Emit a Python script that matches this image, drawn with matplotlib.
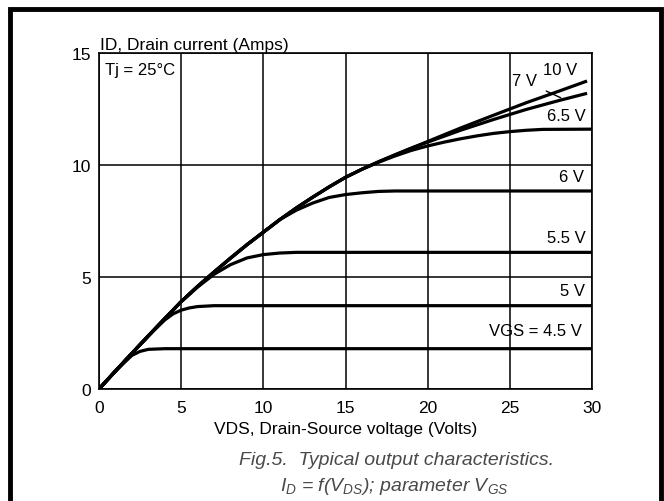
import matplotlib.pyplot as plt
from matplotlib.patches import Rectangle

plt.rcParams['font.family'] = ['Liberation Sans', 'DejaVu Sans']
plt.rcParams['mathtext.fontset'] = 'custom'
plt.rcParams['mathtext.it'] = 'Liberation Sans:italic'
plt.rcParams['mathtext.rm'] = 'Liberation Sans:italic'

# output characteristics, ID (A) against VDS (V), one curve per VGS
vds_45 = [0, 1, 2, 2.5, 3, 4, 30]
id_45 = [0, 0.8, 1.5, 1.68, 1.77, 1.8, 1.8]

vds_50 = [0, 1, 2, 3, 4, 4.5, 5, 5.5, 6, 7, 30]
id_50 = [0, 0.8, 1.59, 2.37, 3.08, 3.35, 3.52, 3.62, 3.68, 3.72, 3.72]

vds_55 = [0, 1, 2, 3, 4, 5, 6, 7, 8, 9, 10, 11, 12, 30]
id_55 = [0, 0.8, 1.59, 2.37, 3.14, 3.9, 4.55, 5.12, 5.55, 5.85, 6.0, 6.07, 6.1, 6.1]

vds_60 = [0, 1, 2, 3, 4, 5, 6, 7, 8, 9, 10, 11, 12, 13, 14, 15, 16, 17, 18, 30]
id_60 = [0, 0.8, 1.59, 2.37, 3.14, 3.9, 4.58, 5.22, 5.84, 6.44, 7.0, 7.56, 7.98,
         8.3, 8.55, 8.68, 8.76, 8.82, 8.84, 8.84]

vds_65 = [0, 1, 2, 3, 4, 5, 6, 7, 8, 9, 10, 11, 12, 13, 14, 15, 16, 17, 18, 19,
          20, 21, 22, 23, 24, 25, 26, 27, 30]
id_65 = [0, 0.8, 1.59, 2.37, 3.14, 3.9, 4.58, 5.22, 5.84, 6.44, 7.0, 7.56, 8.08,
         8.56, 9.02, 9.45, 9.81, 10.12, 10.4, 10.65, 10.85, 11.02, 11.17, 11.3,
         11.41, 11.49, 11.55, 11.59, 11.6]

vds_70 = [0, 1, 2, 3, 4, 5, 6, 7, 8, 9, 10, 11, 12, 13, 14, 15, 16, 17, 18, 19,
          20, 22, 24, 26, 28, 29.7]
id_70 = [0, 0.8, 1.59, 2.37, 3.14, 3.9, 4.58, 5.22, 5.84, 6.44, 7.0, 7.56, 8.08,
         8.56, 9.02, 9.45, 9.81, 10.14, 10.45, 10.75, 11.02, 11.55, 12.03, 12.48,
         12.88, 13.2]

vds_100 = [0, 1, 2, 3, 4, 5, 6, 7, 8, 9, 10, 11, 12, 13, 14, 15, 16, 17, 18, 19,
           20, 22, 24, 26, 28, 29.7]
id_100 = [0, 0.8, 1.59, 2.37, 3.14, 3.9, 4.58, 5.22, 5.84, 6.44, 7.0, 7.56, 8.08,
          8.56, 9.02, 9.45, 9.81, 10.14, 10.45, 10.75, 11.05, 11.65, 12.22, 12.78,
          13.3, 13.75]

curves = [(vds_45, id_45), (vds_50, id_50), (vds_55, id_55), (vds_60, id_60),
          (vds_65, id_65), (vds_70, id_70), (vds_100, id_100)]

# curve labels: text, right edge x, y
labels = [('VGS = 4.5 V', 29.4, 2.6), ('5 V', 29.6, 4.4), ('5.5 V', 29.6, 6.75),
          ('6 V', 29.5, 9.5), ('6.5 V', 29.65, 12.2), ('10 V', 29.1, 14.25)]

fig = plt.figure(figsize=(6.64, 5.02), dpi=100)
ax = fig.add_axes([99 / 664, 1 - 390 / 502, 493 / 664, 336 / 502])

for x, y in curves:
    ax.plot(x, y, color='black', lw=2.3, solid_capstyle='butt', zorder=3)

ax.set_xlim(0, 30)
ax.set_ylim(0, 15)
ax.set_xticks([0, 5, 10, 15, 20, 25, 30])
ax.set_yticks([0, 5, 10, 15])
ax.tick_params(length=0, labelsize=12.5)
ax.tick_params(axis='x', pad=8)
ax.tick_params(axis='y', pad=6)
ax.grid(True, color='black', lw=1.1)
for s in ax.spines.values():
    s.set_linewidth(1.2)

for t, x, y in labels:
    ax.text(x, y, t, ha='right', va='center', fontsize=12)
ax.annotate('7 V', xy=(28.1, 13.0), xytext=(25.9, 13.75), fontsize=12,
            ha='center', va='center',
            arrowprops=dict(arrowstyle='-', color='black', lw=1.0,
                            shrinkA=5, shrinkB=0))
ax.text(0.35, 14.25, 'Tj = 25°C', ha='left', va='center', fontsize=12)

ax.text(0.05, 15.05, 'ID, Drain current (Amps)', ha='left', va='bottom',
        fontsize=12.5)
ax.set_xlabel('VDS, Drain-Source voltage (Volts)', fontsize=12.5, labelpad=4)

fig.text(0.597, 0.083, 'Fig.5.  Typical output characteristics.', ha='center',
         va='center', fontsize=14, style='italic', color='#4a4a4a')
fig.text(0.594, 0.030, r'$I_D$ = f($V_{DS}$); parameter $V_{GS}$', ha='center',
         va='center', fontsize=14, style='italic', color='#4a4a4a')

# outer frame around the figure, cut off at the bottom
fig.patches.append(Rectangle((9.5 / 664, -0.1), 651.5 / 664, 1.1 - 10 / 502,
                             transform=fig.transFigure, fill=False,
                             edgecolor='black', lw=3.5))

fig.savefig('out.png', dpi=100)
